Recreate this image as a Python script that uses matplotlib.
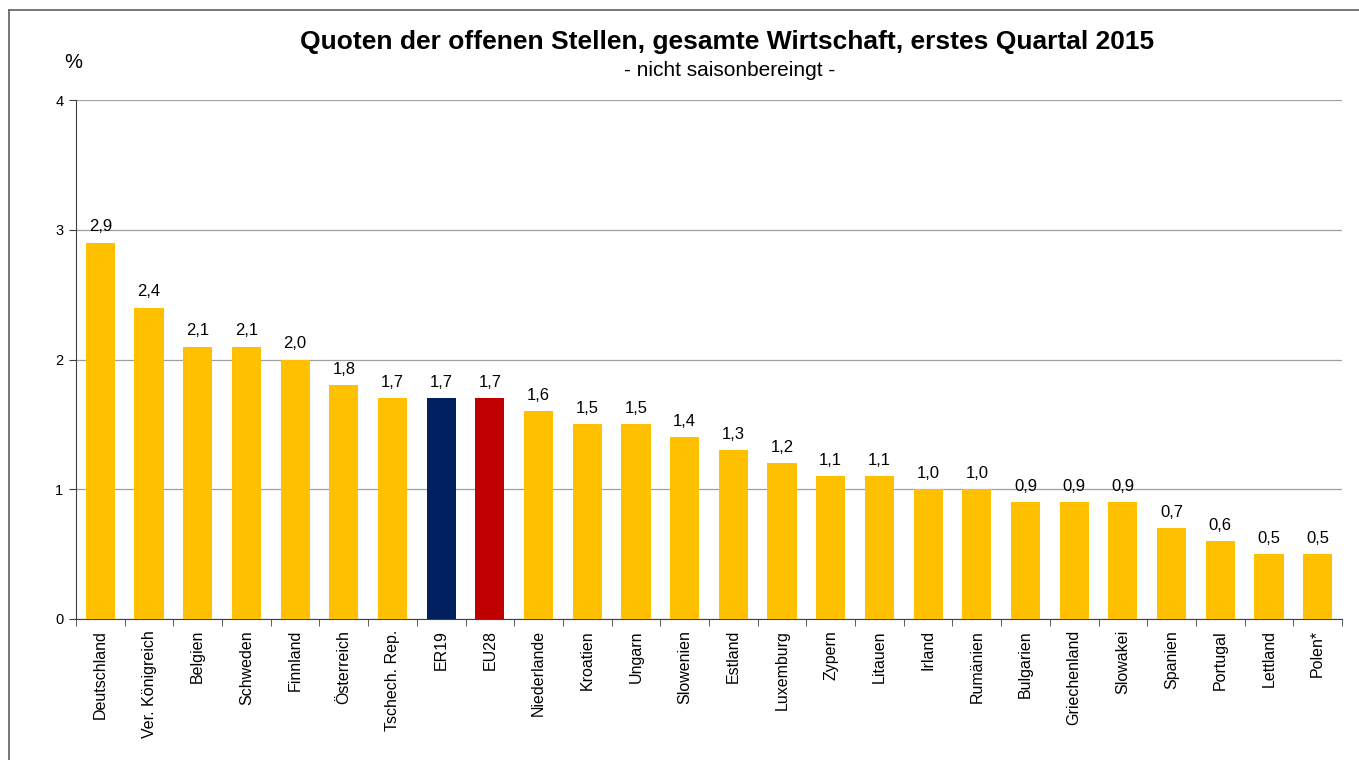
import matplotlib.pyplot as plt
from matplotlib.lines import Line2D

plt.rcParams['font.family'] = ['Liberation Sans', 'DejaVu Sans']

countries = ['Deutschland', 'Ver. Königreich', 'Belgien', 'Schweden', 'Finnland',
             'Österreich', 'Tschech. Rep.', 'ER19', 'EU28', 'Niederlande',
             'Kroatien', 'Ungarn', 'Slowenien', 'Estland', 'Luxemburg', 'Zypern',
             'Litauen', 'Irland', 'Rumänien', 'Bulgarien', 'Griechenland',
             'Slowakei', 'Spanien', 'Portugal', 'Lettland', 'Polen*']
values = [2.9, 2.4, 2.1, 2.1, 2.0, 1.8, 1.7, 1.7, 1.7, 1.6, 1.5, 1.5, 1.4,
          1.3, 1.2, 1.1, 1.1, 1.0, 1.0, 0.9, 0.9, 0.9, 0.7, 0.6, 0.5, 0.5]

colors = []
for c in countries:
    if c == 'ER19':
        colors.append('#002060')
    elif c == 'EU28':
        colors.append('#C00000')
    else:
        colors.append('#FFC000')

fig = plt.figure(figsize=(13.59, 7.6), dpi=100)
ax = fig.add_axes([76 / 1359, 1 - 619 / 760, (1342 - 76) / 1359, (619 - 100) / 760])

x = list(range(len(countries)))
ax.bar(x, values, width=0.6, color=colors, zorder=3)

for xi, v in zip(x, values):
    ax.text(xi, v + 0.065, f'{v:.1f}'.replace('.', ','), ha='center', va='bottom', fontsize=12)

ax.set_xlim(-0.5, len(countries) - 0.5)
ax.set_ylim(0, 4)
ax.set_yticks([0, 1, 2, 3, 4])
ax.tick_params(axis='y', labelsize=10.5, length=5, color='#404040', pad=4)
ax.grid(axis='y', color='#a0a0a0', linewidth=0.9, zorder=0)

ax.set_xticks(x)
ax.set_xticklabels(countries, rotation=90, fontsize=11.5)
ax.tick_params(axis='x', length=0, pad=8)
# boundary ticks between categories
ax.set_xticks([i - 0.5 for i in range(len(countries) + 1)], minor=True)
ax.tick_params(axis='x', which='minor', length=5, color='#404040')

for s in ['top', 'right']:
    ax.spines[s].set_visible(False)
ax.spines['left'].set_color('#404040')
ax.spines['bottom'].set_color('#404040')

fig.text(0.535, 1 - 42 / 760, 'Quoten der offenen Stellen, gesamte Wirtschaft, erstes Quartal 2015',
         ha='center', va='center', fontsize=19, fontweight='bold')
fig.text(0.537, 1 - 70 / 760, '- nicht saisonbereingt -', ha='center', va='center', fontsize=15)
fig.text(73 / 1359, 1 - 62 / 760, '%', ha='center', va='center', fontsize=14.5)

# outer frame (left and top visible)
fig.add_artist(Line2D([9 / 1359, 9 / 1359], [0, 1 - 10 / 760], color='#606060', linewidth=1.2))
fig.add_artist(Line2D([9 / 1359, 1], [1 - 10 / 760, 1 - 10 / 760], color='#606060', linewidth=1.2))

fig.savefig('out.png', dpi=100)
